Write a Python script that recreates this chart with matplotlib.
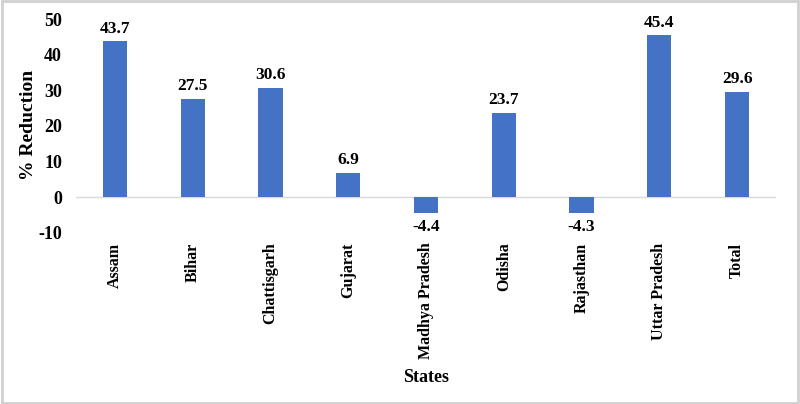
import matplotlib
matplotlib.use("Agg")
import matplotlib.pyplot as plt
from matplotlib.patches import Rectangle

states = ["Assam", "Bihar", "Chattisgarh", "Gujarat", "Madhya Pradesh",
          "Odisha", "Rajasthan", "Uttar Pradesh", "Total"]
reduction = [43.7, 27.5, 30.6, 6.9, -4.4, 23.7, -4.3, 45.4, 29.6]

BLUE = "#4472C4"
plt.rcParams["font.family"] = ["Liberation Serif", "DejaVu Serif"]
plt.rcParams["font.weight"] = "bold"
plt.rcParams["axes.unicode_minus"] = False

fig = plt.figure(figsize=(8.0, 4.04), dpi=100)
ax = fig.add_axes([76 / 800, 1 - 233 / 404, 700 / 800, 214 / 404])

x = list(range(len(states)))
ax.bar(x, reduction, width=0.31, color=BLUE, zorder=2)
ax.axhline(0, color="#d9d9d9", linewidth=1.0, zorder=1)

for xi, v in zip(x, reduction):
    off = 3.5 if v >= 0 else -4.5
    ax.annotate("%.1f" % v, (xi, v), xytext=(0, off), textcoords="offset points",
                ha="center", va="bottom" if v >= 0 else "top", fontsize=12.5, fontweight="bold")

ax.set_xlim(-0.5, len(states) - 0.5)
ax.set_ylim(-10, 50)
ax.set_yticks([-10, 0, 10, 20, 30, 40, 50])
ax.set_xticks(x)
ax.set_xticklabels(states, rotation=90, fontsize=11.5, fontweight="bold")
ax.tick_params(axis="both", length=0)
ax.tick_params(axis="y", labelsize=13, pad=10)
ax.tick_params(axis="x", pad=7)
for s in ax.spines.values():
    s.set_visible(False)

ax.set_ylabel("% Reduction", fontsize=14, fontweight="bold")
ax.yaxis.set_label_coords(-39 / 700, 0.505)
fig.text(0.5 * (76 + 776) / 800, 1 - 377 / 404, "States", ha="center", va="center",
         fontsize=13, fontweight="bold")

# light grey frame around the whole chart
fig.patches.append(Rectangle((0.002, 0.003), 0.996, 0.994, transform=fig.transFigure,
                             fill=False, edgecolor="#d0d0d0", linewidth=2))

fig.savefig("out.png", dpi=100)
